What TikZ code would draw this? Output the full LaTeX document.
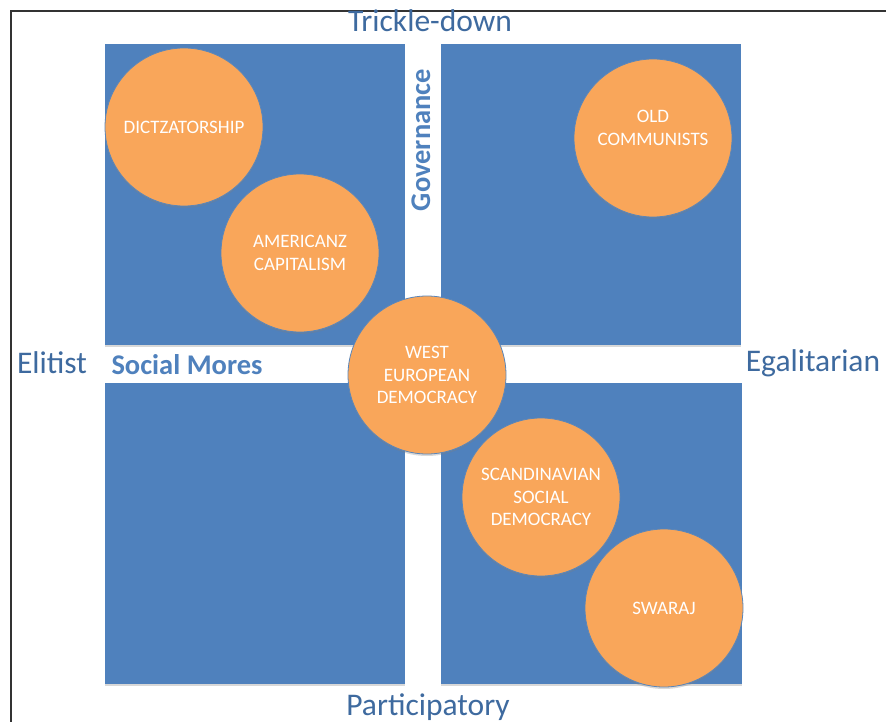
\documentclass[tikz,border=0pt]{standalone}
\usepackage{fontspec}
\setmainfont{Carlito}
\usetikzlibrary{shadows}
\definecolor{sqblue}{HTML}{4F81BD}
\definecolor{orng}{HTML}{F9A65A}
\definecolor{lblblue}{HTML}{3E6A9F}
\definecolor{ringblue}{HTML}{5A86BA}
\tikzset{
  quad/.style={rectangle, fill=sqblue, draw=none, inner sep=0pt, minimum width=300pt, minimum height=301pt,
    drop shadow={shadow xshift=0pt, shadow yshift=-1.5pt, opacity=0.3}},
  blob/.style={circle, minimum size=158pt, inner sep=0pt, fill=orng, draw=ringblue, line width=0.8pt,
    text=white, align=center, font=\fontsize{19}{22.5}\selectfont,
    drop shadow={shadow xshift=0pt, shadow yshift=-2pt, opacity=0.3}},
  blobtext/.style={text=white, align=center, font=\fontsize{19}{22.5}\selectfont, inner sep=0pt},
  axislbl/.style={text=lblblue, font=\fontsize{31.5}{33}\selectfont, inner sep=0pt},
  dimlbl/.style={text=sqblue, font=\fontsize{28.5}{30}\selectfont\bfseries, inner sep=0pt}
}
\begin{document}
\begin{tikzpicture}[x=1pt,y=-1pt]
\useasboundingbox (0,0) rectangle (886,722);
\fill[white] (0,0) rectangle (886,722);
% frame
\draw[line width=2pt, color=black!80] (11,722) coordinate (fb) -- (11,11) coordinate (fc) -- (886,11) coordinate (fr);
% quadrants
\node[quad] (qtl) at (255,194.5) {};
\node[quad] (qtr) at (591,194.5) {};
\node[quad] (qbl) at (255,533.5) {};
\node[quad, minimum width=301pt] (qbr) at (591.5,533.5) {};
% labels
\node[axislbl] (trickle) at (430,21) {Trickle-down};
\node[axislbl] (partic) at (428,707) {Participatory};
\node[axislbl] (elit) at (52,363) {Elitist};
\node[axislbl] (egal) at (813,363) {Egalitarian};
\node[dimlbl] (mores) at (187,365) {Social Mores};
\node[dimlbl, rotate=90] (gov) at (421,140) {Governance};
% circles
\node[blob] (dict) at (184,127) {DICTZATORSHIP};
\node[blob] (amer) at (300,253) {AMERICANZ\\CAPITALISM};
\node[blob] (old) at (653,138) {};
\node[blobtext] (oldtxt) at ([yshift=10pt]old.center) {OLD\\COMMUNISTS};
\node[blob] (west) at (427,375) {WEST\\EUROPEAN\\DEMOCRACY};
\node[blob] (scan) at (541,497) {SCANDINAVIAN\\SOCIAL\\DEMOCRACY};
\node[blob] (swar) at (664,608) {SWARAJ};
\end{tikzpicture}
\end{document}
